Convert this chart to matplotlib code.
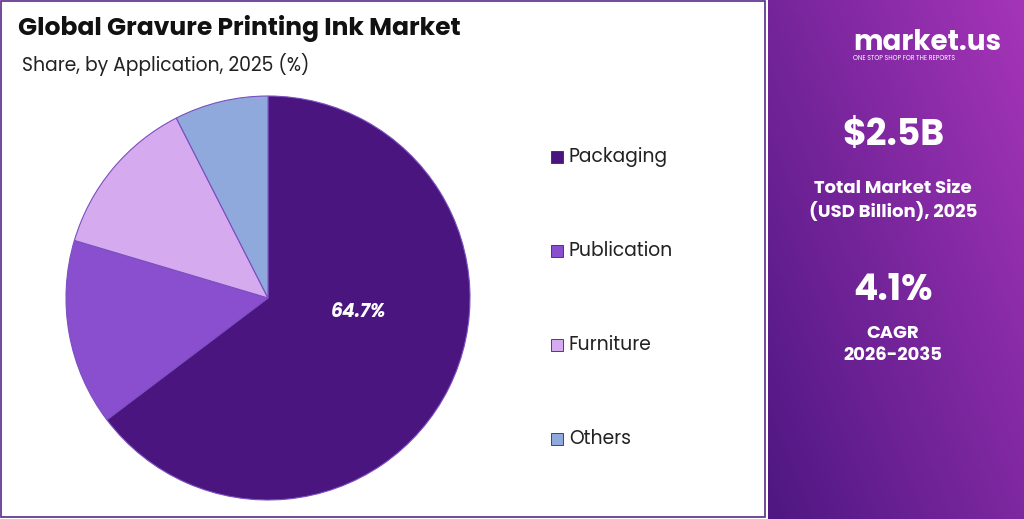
import matplotlib.pyplot as plt
import numpy as np

categories = ["Packaging", "Publication", "Furniture", "Others"]
shares = [64.7, 14.9, 12.9, 7.5]
colors = ["#4b1580", "#8a4fcf", "#d5aaef", "#8fa9dc"]

plt.rcParams['font.family'] = ['Poppins', 'Lato', 'DejaVu Sans']

fig = plt.figure(figsize=(10.24, 5.19), dpi=100)
W, H = 1024, 519

# left white panel border
bg = fig.add_axes([0, 0, 1, 1])
bg.axis('off')
bg.add_patch(plt.Rectangle((1, 1), 764, H - 3, fill=False, ec="#5a2a8a", lw=1.2))

# right purple panel with gradient
grad = np.linspace(0, 1, 256)
gx, gy = np.meshgrid(grad, grad)
t = 0.55 * gx + 0.45 * (1 - gy)
c1 = np.array([0x4e, 0x17, 0x82]) / 255
c2 = np.array([0xa5, 0x35, 0xb8]) / 255
img = c1[None, None, :] * (1 - t[..., None]) + c2[None, None, :] * t[..., None]
bg.imshow(img, extent=(768, W, H, 0), aspect='auto', zorder=0)
bg.set_xlim(0, W); bg.set_ylim(H, 0)

bg.text(18, 28, "Global Gravure Printing Ink Market", fontsize=18, fontweight='bold',
        color="#111111", va='center')
bg.text(22, 65, "Share, by Application, 2025 (%)", fontsize=13.5, color="#222222", va='center')

bg.text(853, 43, "market.us", fontsize=20, fontweight='bold', color='white', va='center')
bg.text(853, 59, "ONE STOP SHOP FOR THE REPORTS", fontsize=4.5, color='white', va='center')
bg.text(893, 137, "$2.5B", fontsize=26, fontweight='bold', color='white', ha='center', va='center')
bg.text(893, 201, "Total Market Size\n(USD Billion), 2025", fontsize=13, fontweight='bold',
        color='white', ha='center', va='center', linespacing=1.3)
bg.text(893, 292, "4.1%", fontsize=26, fontweight='bold', color='white', ha='center', va='center')
bg.text(893, 345, "CAGR\n2026-2035", fontsize=13, fontweight='bold',
        color='white', ha='center', va='center', linespacing=1.3)

# pie
R = 203
ax = fig.add_axes([(268 - R) / W, 1 - (298 + R) / H, 2 * R / W, 2 * R / H])
wedges, _ = ax.pie(shares, colors=colors, startangle=90, counterclock=False,
                   wedgeprops=dict(edgecolor='#7a4fc0', linewidth=0.8))
ax.set_xlim(-1.005, 1.005); ax.set_ylim(-1.005, 1.005)
ax.text(0.45, -0.07, f"{shares[0]}%", fontsize=13.5, fontweight='bold', style='italic',
        color='white', ha='center', va='center')

# legend
for i, (cat, col) in enumerate(zip(categories, colors)):
    y = 157 + i * 94
    bg.add_patch(plt.Rectangle((551, y - 6), 12, 12, fc=col, ec='#4b1580', lw=0.6))
    bg.text(569, y, cat, fontsize=13.5, color='#222222', va='center')

fig.savefig("out.png", dpi=100)
